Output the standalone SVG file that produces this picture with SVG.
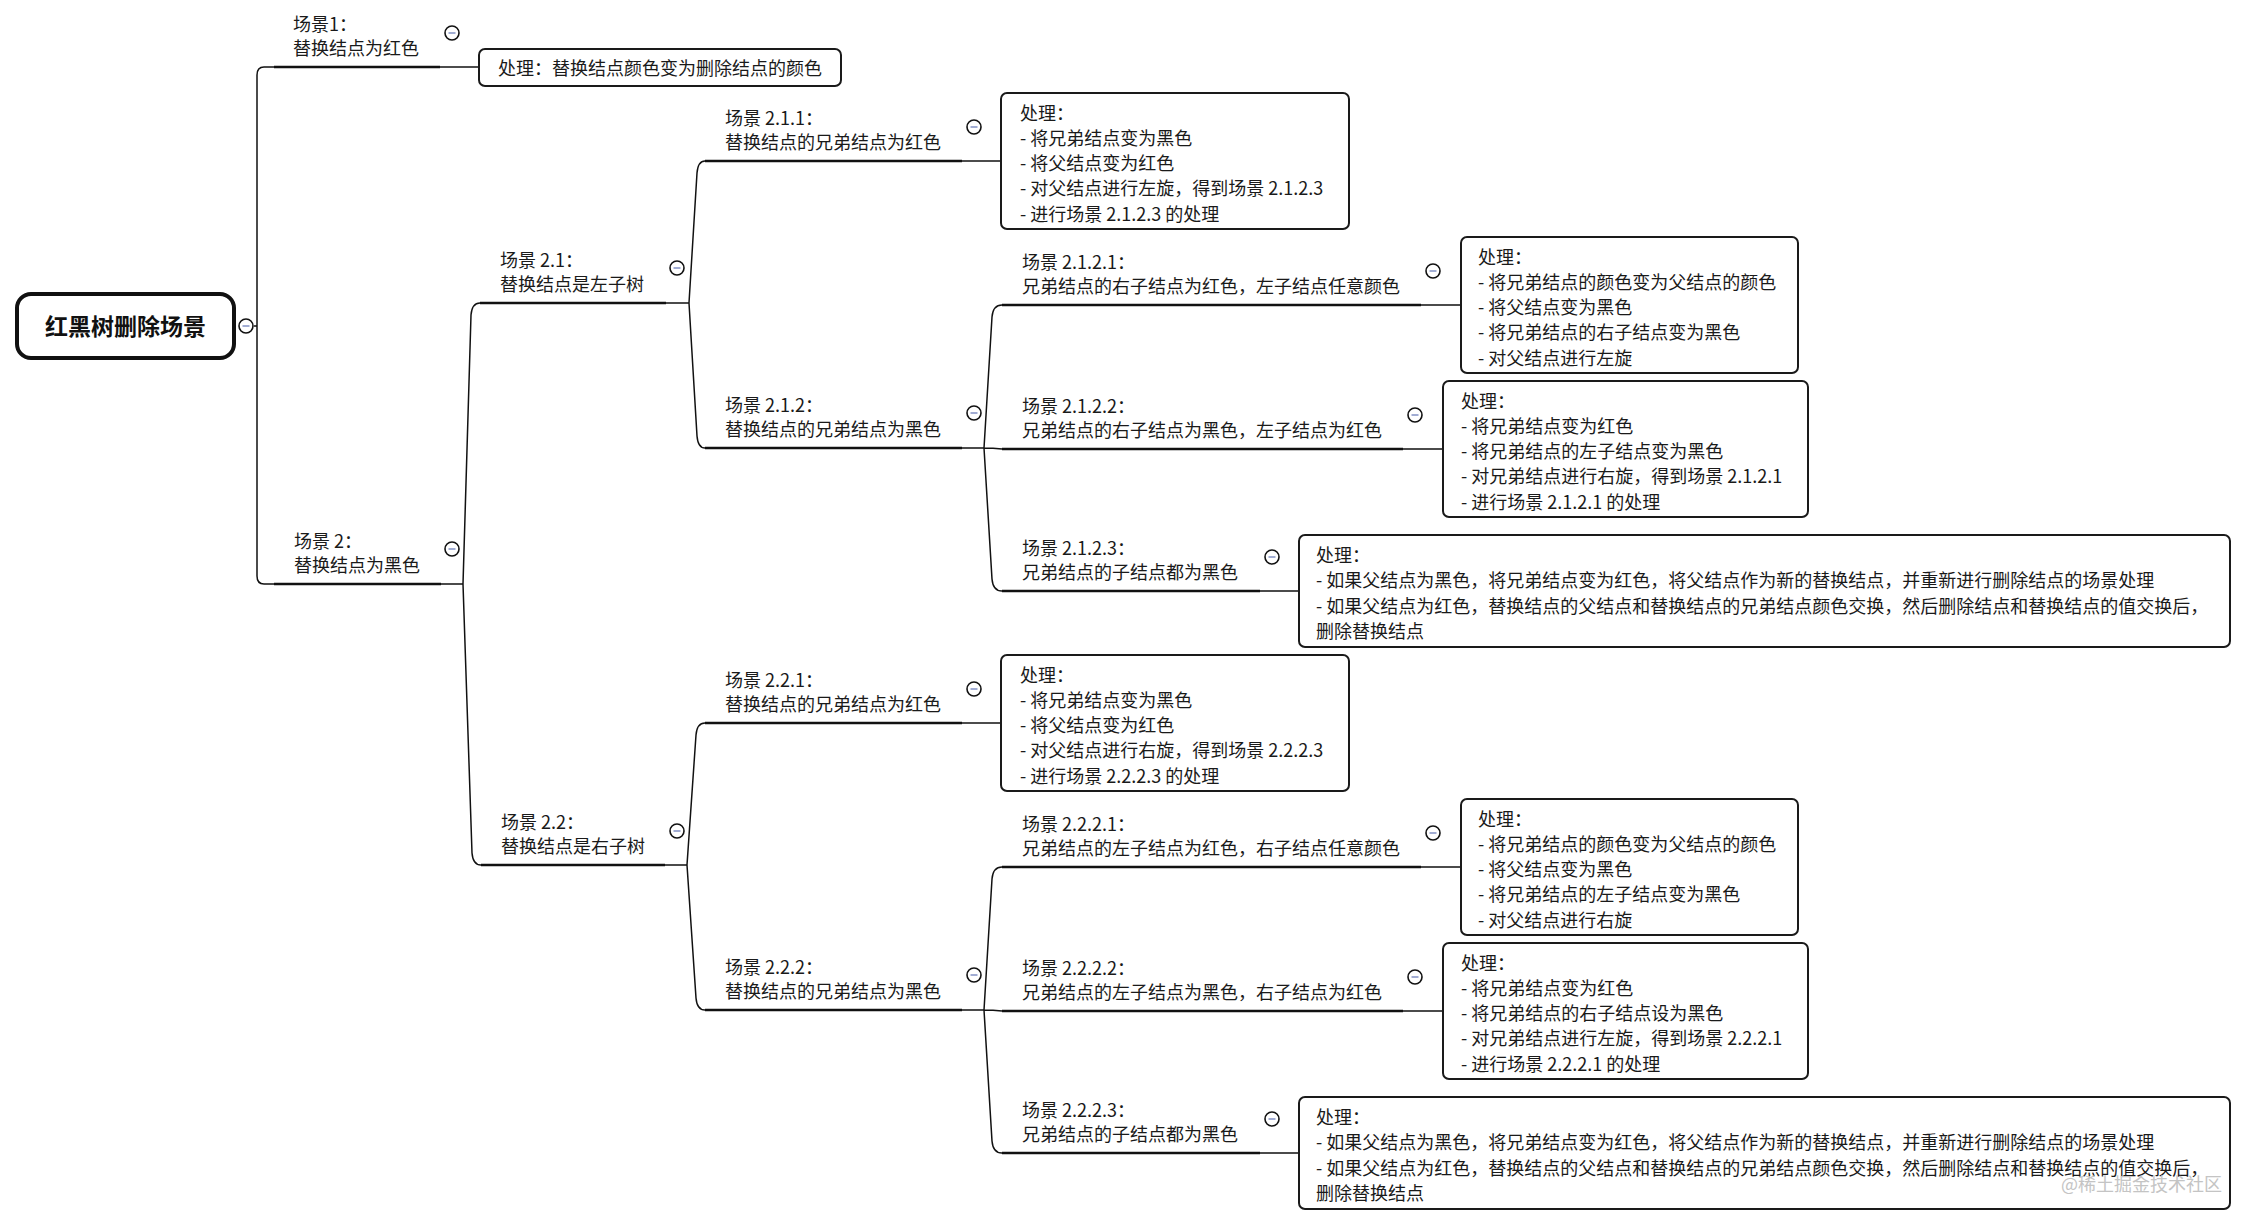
<svg xmlns="http://www.w3.org/2000/svg" xmlns:xlink="http://www.w3.org/1999/xlink" width="2242" height="1226" viewBox="0 0 2242 1226">
<defs>
<style>
text{font-family:"Noto Sans CJK SC","Noto Sans",sans-serif;font-size:18px;fill:#1a1a1a}
.root{font-size:23px;font-weight:bold;fill:#111}
.wm{font-size:18px;fill:#c4c4c4}
.ul{stroke:#111;stroke-width:2.6;fill:none}
.cn{stroke:#111;stroke-width:1.5;fill:none}
.box{fill:#fff;stroke:#1a1a1a;stroke-width:2}
</style>
<g id="cc"><circle cx="0" cy="0" r="7" fill="#fff" stroke="#111" stroke-width="1.6"/><line x1="-3.5" y1="0" x2="3.5" y2="0" stroke="#8a98c8" stroke-width="1.6"/></g>
</defs>
<rect width="2242" height="1226" fill="#fff"/>

<g id="connectors">
<path class="cn" d="M254,326 H257 M274,67 H264 Q257,67 257,75 V576 Q257,584 264,584 H274"/>
<path class="cn" d="M440,67 H479"/>
<path class="cn" d="M441,584 H463 M463,584 L471,315 Q472,303 480,303 M463,584 L472,853 Q473,865 481,865"/>
<path class="cn" d="M666,303 H689 M689,303 L697,173 Q698,161 705,161 M689,303 L697,436 Q698,448 705,448"/>
<path class="cn" d="M962,161 H1001"/>
<path class="cn" d="M962,448 H984 M984,448 L992,317 Q993,305 1002,305 M984,448 Q993,448 1002,449 M984,448 L992,579 Q993,591 1002,591"/>
<path class="cn" d="M1421,305 H1461 M1403,449 H1443 M1260,591 H1299"/>
<path class="cn" d="M665,865 H687 M687,865 L696,735 Q697,723 705,723 M687,865 L696,998 Q697,1010 705,1010"/>
<path class="cn" d="M962,723 H1001"/>
<path class="cn" d="M962,1010 H984 M984,1010 L992,879 Q993,867 1002,867 M984,1010 Q993,1010 1002,1011 M984,1010 L992,1141 Q993,1153 1002,1153"/>
<path class="cn" d="M1421,867 H1461 M1403,1011 H1443 M1260,1153 H1299"/>
</g>

<g id="root">
<rect x="17" y="294" width="217" height="64" rx="14" fill="#fff" stroke="#111" stroke-width="4"/>
<text class="root" x="125.5" y="335" text-anchor="middle">红黑树删除场景</text>
<use xlink:href="#cc" x="246" y="326"/>
</g>

<g id="n1">
<text x="293" y="30.5">场景1：<tspan x="293" dy="24">替换结点为红色</tspan></text>
<line class="ul" x1="274" y1="67" x2="440" y2="67"/>
<use xlink:href="#cc" x="452" y="33"/>
</g>
<g id="b1">
<rect class="box" x="479" y="49" width="362" height="37" rx="6"/>
<text x="498" y="74.5">处理：替换结点颜色变为删除结点的颜色</text>
</g>

<g id="n2">
<text x="294" y="547.5">场景 2：<tspan x="294" dy="24">替换结点为黑色</tspan></text>
<line class="ul" x1="274" y1="584" x2="441" y2="584"/>
<use xlink:href="#cc" x="452" y="549"/>
</g>

<g id="n21">
<text x="500" y="266.5">场景 2.1：<tspan x="500" dy="24">替换结点是左子树</tspan></text>
<line class="ul" x1="480" y1="303" x2="666" y2="303"/>
<use xlink:href="#cc" x="677" y="268"/>
</g>

<g id="n211">
<text x="725" y="124.5">场景 2.1.1：<tspan x="725" dy="24">替换结点的兄弟结点为红色</tspan></text>
<line class="ul" x1="705" y1="161" x2="962" y2="161"/>
<use xlink:href="#cc" x="974" y="127"/>
</g>
<g id="b211">
<rect class="box" x="1001" y="93" width="348" height="136" rx="6"/>
<text x="1020" y="119.5">处理：<tspan x="1020" dy="25.3">- 将兄弟结点变为黑色</tspan><tspan x="1020" dy="25.3">- 将父结点变为红色</tspan><tspan x="1020" dy="25.3">- 对父结点进行左旋，得到场景 2.1.2.3</tspan><tspan x="1020" dy="25.3">- 进行场景 2.1.2.3 的处理</tspan></text>
</g>

<g id="n212">
<text x="725" y="411.5">场景 2.1.2：<tspan x="725" dy="24">替换结点的兄弟结点为黑色</tspan></text>
<line class="ul" x1="705" y1="448" x2="962" y2="448"/>
<use xlink:href="#cc" x="974" y="413"/>
</g>

<g id="n2121">
<text x="1022" y="268.5">场景 2.1.2.1：<tspan x="1022" dy="24">兄弟结点的右子结点为红色，左子结点任意颜色</tspan></text>
<line class="ul" x1="1002" y1="305" x2="1421" y2="305"/>
<use xlink:href="#cc" x="1433" y="271"/>
</g>
<g id="b2121">
<rect class="box" x="1461" y="237" width="337" height="136" rx="6"/>
<text x="1478" y="263.5">处理：<tspan x="1478" dy="25.3">- 将兄弟结点的颜色变为父结点的颜色</tspan><tspan x="1478" dy="25.3">- 将父结点变为黑色</tspan><tspan x="1478" dy="25.3">- 将兄弟结点的右子结点变为黑色</tspan><tspan x="1478" dy="25.3">- 对父结点进行左旋</tspan></text>
</g>

<g id="n2122">
<text x="1022" y="412.5">场景 2.1.2.2：<tspan x="1022" dy="24">兄弟结点的右子结点为黑色，左子结点为红色</tspan></text>
<line class="ul" x1="1002" y1="449" x2="1403" y2="449"/>
<use xlink:href="#cc" x="1415" y="415"/>
</g>
<g id="b2122">
<rect class="box" x="1443" y="381" width="365" height="136" rx="6"/>
<text x="1461" y="407.5">处理：<tspan x="1461" dy="25.3">- 将兄弟结点变为红色</tspan><tspan x="1461" dy="25.3">- 将兄弟结点的左子结点变为黑色</tspan><tspan x="1461" dy="25.3">- 对兄弟结点进行右旋，得到场景 2.1.2.1</tspan><tspan x="1461" dy="25.3">- 进行场景 2.1.2.1 的处理</tspan></text>
</g>

<g id="n2123">
<text x="1022" y="554.5">场景 2.1.2.3：<tspan x="1022" dy="24">兄弟结点的子结点都为黑色</tspan></text>
<line class="ul" x1="1002" y1="591" x2="1260" y2="591"/>
<use xlink:href="#cc" x="1272" y="557"/>
</g>
<g id="b2123">
<rect class="box" x="1299" y="535" width="931" height="112" rx="6"/>
<text x="1316" y="561.5">处理：<tspan x="1316" dy="25.5">- 如果父结点为黑色，将兄弟结点变为红色，将父结点作为新的替换结点，并重新进行删除结点的场景处理</tspan><tspan x="1316" dy="25.5">- 如果父结点为红色，替换结点的父结点和替换结点的兄弟结点颜色交换，然后删除结点和替换结点的值交换后，</tspan><tspan x="1316" dy="25.5">删除替换结点</tspan></text>
</g>

<g id="n22">
<text x="501" y="828.5">场景 2.2：<tspan x="501" dy="24">替换结点是右子树</tspan></text>
<line class="ul" x1="481" y1="865" x2="665" y2="865"/>
<use xlink:href="#cc" x="677" y="831"/>
</g>

<g id="n221">
<text x="725" y="686.5">场景 2.2.1：<tspan x="725" dy="24">替换结点的兄弟结点为红色</tspan></text>
<line class="ul" x1="705" y1="723" x2="962" y2="723"/>
<use xlink:href="#cc" x="974" y="689"/>
</g>
<g id="b221">
<rect class="box" x="1001" y="655" width="348" height="136" rx="6"/>
<text x="1020" y="681.5">处理：<tspan x="1020" dy="25.3">- 将兄弟结点变为黑色</tspan><tspan x="1020" dy="25.3">- 将父结点变为红色</tspan><tspan x="1020" dy="25.3">- 对父结点进行右旋，得到场景 2.2.2.3</tspan><tspan x="1020" dy="25.3">- 进行场景 2.2.2.3 的处理</tspan></text>
</g>

<g id="n222">
<text x="725" y="973.5">场景 2.2.2：<tspan x="725" dy="24">替换结点的兄弟结点为黑色</tspan></text>
<line class="ul" x1="705" y1="1010" x2="962" y2="1010"/>
<use xlink:href="#cc" x="974" y="975"/>
</g>

<g id="n2221">
<text x="1022" y="830.5">场景 2.2.2.1：<tspan x="1022" dy="24">兄弟结点的左子结点为红色，右子结点任意颜色</tspan></text>
<line class="ul" x1="1002" y1="867" x2="1421" y2="867"/>
<use xlink:href="#cc" x="1433" y="833"/>
</g>
<g id="b2221">
<rect class="box" x="1461" y="799" width="337" height="136" rx="6"/>
<text x="1478" y="825.5">处理：<tspan x="1478" dy="25.3">- 将兄弟结点的颜色变为父结点的颜色</tspan><tspan x="1478" dy="25.3">- 将父结点变为黑色</tspan><tspan x="1478" dy="25.3">- 将兄弟结点的左子结点变为黑色</tspan><tspan x="1478" dy="25.3">- 对父结点进行右旋</tspan></text>
</g>

<g id="n2222">
<text x="1022" y="974.5">场景 2.2.2.2：<tspan x="1022" dy="24">兄弟结点的左子结点为黑色，右子结点为红色</tspan></text>
<line class="ul" x1="1002" y1="1011" x2="1403" y2="1011"/>
<use xlink:href="#cc" x="1415" y="977"/>
</g>
<g id="b2222">
<rect class="box" x="1443" y="943" width="365" height="136" rx="6"/>
<text x="1461" y="969.5">处理：<tspan x="1461" dy="25.3">- 将兄弟结点变为红色</tspan><tspan x="1461" dy="25.3">- 将兄弟结点的右子结点设为黑色</tspan><tspan x="1461" dy="25.3">- 对兄弟结点进行左旋，得到场景 2.2.2.1</tspan><tspan x="1461" dy="25.3">- 进行场景 2.2.2.1 的处理</tspan></text>
</g>

<g id="n2223">
<text x="1022" y="1116.5">场景 2.2.2.3：<tspan x="1022" dy="24">兄弟结点的子结点都为黑色</tspan></text>
<line class="ul" x1="1002" y1="1153" x2="1260" y2="1153"/>
<use xlink:href="#cc" x="1272" y="1119"/>
</g>
<g id="b2223">
<rect class="box" x="1299" y="1097" width="931" height="112" rx="6"/>
<text x="1316" y="1123.5">处理：<tspan x="1316" dy="25.5">- 如果父结点为黑色，将兄弟结点变为红色，将父结点作为新的替换结点，并重新进行删除结点的场景处理</tspan><tspan x="1316" dy="25.5">- 如果父结点为红色，替换结点的父结点和替换结点的兄弟结点颜色交换，然后删除结点和替换结点的值交换后，</tspan><tspan x="1316" dy="25.5">删除替换结点</tspan></text>
</g>

<text class="wm" x="2222" y="1191" text-anchor="end">@稀土掘金技术社区</text>
</svg>
